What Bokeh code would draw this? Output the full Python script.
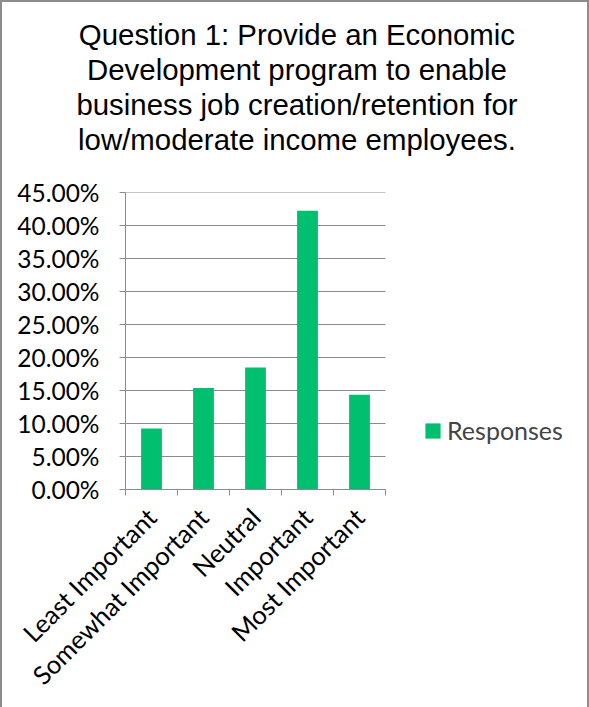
import numpy as np
from bokeh.plotting import figure
from bokeh.models import (Range1d, FixedTicker, NumeralTickFormatter, Legend,
                          LegendItem, Title, ColumnDataSource)
from bokeh.embed import file_html
from bokeh.resources import INLINE

# ---- data ----
categories = ["Least Important", "Somewhat Important", "Neutral",
              "Important", "Most Important"]
responses = [0.0924, 0.1538, 0.1848, 0.4222, 0.1437]
series_name = "Responses"
y_ticks = [0.0, 0.05, 0.10, 0.15, 0.20, 0.25, 0.30, 0.35, 0.40, 0.45]
title_lines = ["Question 1: Provide an Economic",
               "Development program to enable",
               "business job creation/retention for",
               "low/moderate income employees."]

GRAY = "#8c8c8c"
GREEN = "#00BF6F"
W, H = 589, 707
FRAME_LEFT, AXIS_RIGHT = 123, 383      # plot-area extent in pixels
TITLE_PX = 29.4

# Arial / Liberation Sans advance widths (em) used to centre title lines on the canvas
_AW = dict(zip("abcdefghijklmnopqrstuvwxyz",
               [.556, .556, .5, .556, .556, .278, .556, .556, .222, .222, .5, .222, .833,
                .556, .556, .556, .556, .333, .5, .278, .556, .5, .722, .5, .5, .5]))
_AW.update({"Q": .778, "P": .667, "E": .667, "D": .722, "1": .556, ":": .278,
            "/": .278, ".": .278, " ": .278})


def text_w(s, px):
    return sum(_AW.get(c, .556) for c in s) * px


n = len(categories)
x_centers = [i + 0.5 for i in range(n)]
boundaries = [float(i) for i in range(n + 1)]
source = ColumnDataSource(dict(x=x_centers, y=responses, cat=categories))

# the frame runs to the right edge so that the legend (right of the axes) is not clipped;
# the axis and grid lines are bounded to the category span
px_per_cat = (AXIS_RIGHT - FRAME_LEFT) / n
x_end = (W - FRAME_LEFT) / px_per_cat

p = figure(width=W, height=H,
           x_range=Range1d(0, x_end), y_range=Range1d(y_ticks[0], y_ticks[-1]),
           output_backend="svg", toolbar_location=None,
           min_border_left=FRAME_LEFT, min_border_right=0,
           min_border_top=190, min_border_bottom=220)
p.title = None
p.outline_line_color = None
p.background_fill_color = "white"
p.border_fill_color = "white"

# horizontal gridlines, only across the category span
p.segment(x0=0, x1=n, y0=y_ticks, y1=y_ticks, line_color=GRAY, line_width=1)

r = p.vbar(x="x", top="y", width=0.4, source=source,
           fill_color=GREEN, line_color=None)

# spacer between title and plot area
p.add_layout(Title(text=" ", text_font_size="10px", standoff=24), "above")
# title: one Title per line, added bottom line first (later ones stack above)
centre = W / 2 - FRAME_LEFT
for line in reversed(title_lines):
    t = Title(text=line, align="left",
              offset=centre - text_w(line, TITLE_PX) / 2,
              text_font="Liberation Sans", text_font_size=f"{TITLE_PX}px",
              text_font_style="normal", text_color="black", standoff=0)
    p.add_layout(t, "above")

# y axis
yax = p.yaxis[0]
yax.ticker = FixedTicker(ticks=y_ticks)
yax.formatter = NumeralTickFormatter(format="0.00%")
yax.axis_line_color = GRAY
yax.major_tick_line_color = GRAY
yax.major_tick_out = 6
yax.major_tick_in = 0
yax.minor_tick_line_color = None
yax.major_label_text_font = "Lato"
yax.major_label_text_font_size = "24.5px"
yax.major_label_text_color = "black"
yax.major_label_standoff = 20

# x axis
xax = p.xaxis[0]
xax.bounds = (0, n)
xax.ticker = FixedTicker(ticks=x_centers, minor_ticks=boundaries)
xax.major_label_overrides = {x: c for x, c in zip(x_centers, categories)}
xax.axis_line_color = GRAY
xax.major_tick_line_color = None
xax.minor_tick_line_color = GRAY
xax.minor_tick_out = 6
xax.minor_tick_in = 0
xax.major_label_orientation = np.pi / 4
xax.major_label_text_font = "Lato"
xax.major_label_text_font_size = "25.5px"
xax.major_label_text_color = "black"
xax.major_label_standoff = 17

p.xgrid.grid_line_color = None
p.ygrid.grid_line_color = None

legend = Legend(items=[LegendItem(label=series_name, renderers=[r])],
                location=(AXIS_RIGHT - FRAME_LEFT + 38, 44), orientation="vertical",
                glyph_width=19, glyph_height=19, label_height=19,
                label_standoff=5, padding=0, margin=0, spacing=0,
                border_line_color=None, background_fill_alpha=0,
                label_text_font="Lato", label_text_font_size="25px",
                label_text_baseline="middle")
p.add_layout(legend, "center")

p.styles = {"border-left": "2px solid #8c8c8c", "border-top": "2px solid #8c8c8c",
            "border-right": "2px solid #8c8c8c", "box-sizing": "border-box"}

open("out.html", "w").write(file_html(p, INLINE))
